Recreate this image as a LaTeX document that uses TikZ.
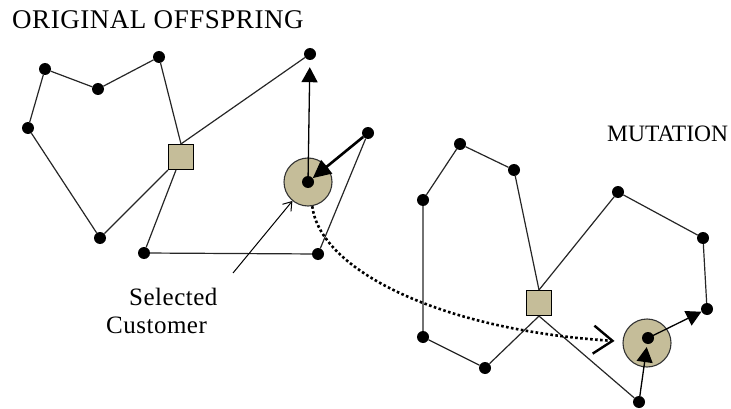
\documentclass[tikz,border=0pt]{standalone}
\usepackage{fontspec}
\setmainfont{Liberation Serif}
\usetikzlibrary{arrows.meta}
\definecolor{sand}{RGB}{197,189,153}
\tikzset{
  %Define style for customers
  cust/.style={
    circle,
    fill=black,
    inner sep=0pt,
    minimum size=12pt},
  %Define style for depots
  depot/.style={
    rectangle,
    draw=black, line width=1.1pt,
    fill=sand,
    inner sep=0pt,
    minimum size=25pt},
  %Define style for the ring round the selected customer
  selring/.style={
    circle,
    draw=black!80, line width=1.1pt,
    fill=sand,
    inner sep=0pt,
    minimum size=48pt},
  % Define route and arrow styles
  route/.style={
    line width=1.2pt,
    draw=black!85},
  pil/.style={
    -{Triangle[length=15pt,width=16pt]},
    line width=1.3pt},
  bigpil/.style={
    -{Triangle[length=18pt,width=17pt]},
    line width=2.6pt},
  dotpath/.style={
    -{Straight Barb[length=19pt,width=28pt,line width=2.4pt]},
    line width=2.6pt,
    dash pattern=on 2.6pt off 2.4pt,
    shorten >=8pt},
  pointer/.style={
    -{Straight Barb[length=8pt,width=11pt,line width=1pt]},
    line width=1pt}
}

\begin{document}
\begin{tikzpicture}[x=1pt,y=-1pt]
  \useasboundingbox (0,0) rectangle (731,409);
  % original offspring
  \node[anchor=base west,inner sep=0pt,font=\fontsize{27}{32}\selectfont\addfontfeatures{LetterSpace=2}] (orig) at (12,29) {ORIGINAL OFFSPRING};
  \node[depot] (dl) at (181,157) {};
  \node[cust] (a1) at (45,69) {};
  \node[cust] (a2) at (98,89) {};
  \node[cust] (a3) at (159,57) {};
  \node[cust] (a4) at (28,128) {};
  \node[cust] (a5) at (100,238) {};
  \node[cust] (a6) at (144,253) {};
  \node[cust] (a7) at (318,254) {};
  \node[cust] (a8) at (368,133) {};
  \node[cust] (a9) at (310,54) {};
  \node[selring] (sl) at (308,182) {};
  \node[cust] (s1) at (308,182) {};
  \draw[route] (dl.north) -- (a3) -- (a2) -- (a1) -- (a4) -- (a5) -- (dl);
  \draw[route] (dl.north) -- (a9);
  \draw[route] (dl) -- (a6) -- (a7) -- (a8);
  \draw[pil,shorten >=7pt] (s1.center) -- (a9);
  \draw[bigpil] (a8) -- (s1);
  \node[anchor=north west,inner sep=0pt,align=left,font=\fontsize{25}{28}\selectfont\addfontfeatures{LetterSpace=2}] (lab) at (106,288) {\hspace*{23pt}Selected\\Customer};
  \coordinate (ptr) at (233,273);
  \draw[pointer] (ptr) -- (sl);
  % mutation
  \node[anchor=base west,inner sep=0pt,font=\fontsize{23.5}{28}\selectfont] (mut) at (607,142) {MUTATION};
  \node[depot] (dr) at (539,303) {};
  \node[cust] (b1) at (460,144) {};
  \node[cust] (b2) at (514,170) {};
  \node[cust] (b3) at (423,200) {};
  \node[cust] (b4) at (618,192) {};
  \node[cust] (b5) at (703,238) {};
  \node[cust] (b6) at (707,309) {};
  \node[cust] (b7) at (423,337) {};
  \node[cust] (b8) at (485,368) {};
  \node[cust] (b9) at (639,402) {};
  \node[selring] (sr) at (647,343) {};
  \node[cust] (s2) at (648,338) {};
  \draw[route] (dr.north) -- (b2) -- (b1) -- (b3) -- (b7) -- (b8) -- (dr.south);
  \draw[route] (dr.north) -- (b4) -- (b5) -- (b6);
  \draw[route] (dr.south) -- (b9);
  \draw[pil,shorten >=3pt] (b9) -- (s2);
  \draw[pil] (s2.center) -- (b6);
  % moving the customer
  \draw[dotpath] (sl.-80) .. controls (320,270) and (440,330) .. (sr);
\end{tikzpicture}
\end{document}
